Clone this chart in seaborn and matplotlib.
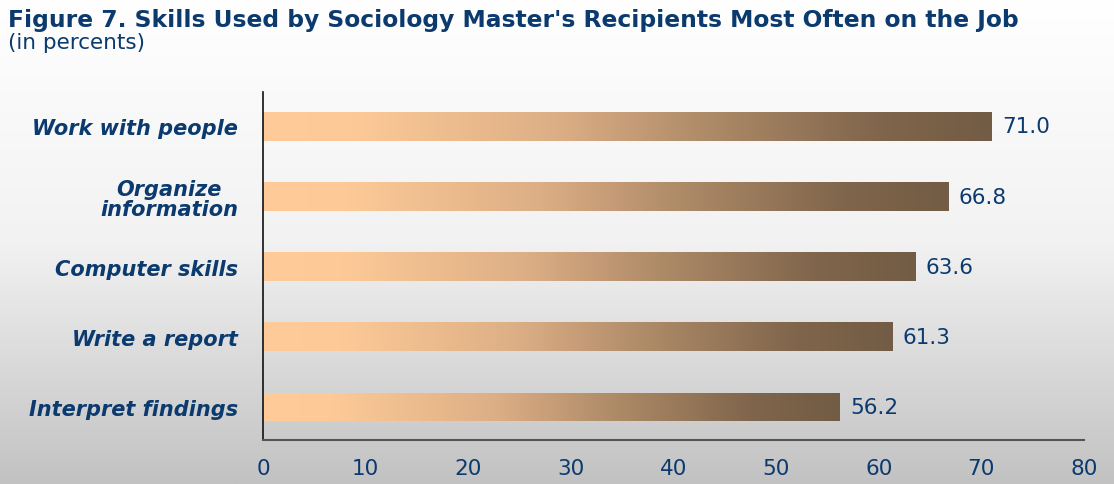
import numpy as np
import pandas as pd
import matplotlib
matplotlib.use("Agg")
import matplotlib.pyplot as plt
from matplotlib.colors import LinearSegmentedColormap
import seaborn as sns

skills = ["Work with people", "Organize\ninformation", "Computer skills", "Write a report", "Interpret findings"]
percents = [71.0, 66.8, 63.6, 61.3, 56.2]
x_ticks = [0, 10, 20, 30, 40, 50, 60, 70, 80]

title = "Figure 7. Skills Used by Sociology Master's Recipients Most Often on the Job"
subtitle = "(in percents)"

navy = "#0B3A6E"
sns.set_theme(style="white")
plt.rcParams['font.family'] = ['DejaVu Sans']

df = pd.DataFrame({"skill": skills, "pct": percents})

fig = plt.figure(figsize=(11.14, 4.85), dpi=100)

# background gradient
bg = fig.add_axes([0, 0, 1, 1], zorder=0)
grad = np.linspace(0, 1, 256).reshape(-1, 1)
bg_cmap = LinearSegmentedColormap.from_list("bg", ["#FFFFFF", "#F2F2F2", "#C2C2C2"])
bg.imshow(grad, aspect="auto", cmap=bg_cmap, extent=[0, 1, 0, 1], origin="upper")
bg.set_axis_off()

ax = fig.add_axes([263/1114, 1 - 441/485, (1084-263)/1114, (441-93)/485], zorder=1)
ax.patch.set_alpha(0)

sns.barplot(data=df, x="pct", y="skill", ax=ax, width=0.41, color="#FFCC99",
            edgecolor="none", linewidth=0, orient="h")

bar_cmap = LinearSegmentedColormap.from_list(
    "bar", [(0, "#FFCC99"), (0.12, "#FDCA97"), (0.4, "#DDAF86"),
            (0.6, "#B08C69"), (0.85, "#7F654B"), (1.0, "#735C45")])
hgrad = np.linspace(0, 1, 256).reshape(1, -1)
for p in ax.patches:
    x0, y0 = p.get_x(), p.get_y()
    w, h = p.get_width(), p.get_height()
    im = ax.imshow(hgrad, aspect="auto", cmap=bar_cmap,
                   extent=[x0, x0 + w, y0 + h, y0], zorder=2)
    im.set_clip_path(p)
    p.set_alpha(0)

for i, v in enumerate(percents):
    ax.text(v + 1.0, i, f"{v:.1f}", va="center", ha="left", fontsize=15.5, color=navy)

ax.set_xlim(0, 80)
ax.set_ylim(4.47, -0.49)
ax.set_xticks(x_ticks)
ax.set_xticklabels([str(t) for t in x_ticks], fontsize=15.5, color=navy)
ax.set_yticks(range(len(skills)))
ax.set_yticklabels(skills, fontsize=15, color=navy, fontweight="bold",
                   fontstyle="italic", linespacing=1.0)
ax.set_xlabel("")
ax.set_ylabel("")
ax.tick_params(axis="x", direction="in", length=5, width=1.2, color="#555555", pad=13)
ax.tick_params(axis="y", length=0, pad=18)
for lbl in ax.get_yticklabels():
    lbl.set_horizontalalignment("right")
    lbl.set_multialignment("center")
for s in ["top", "right"]:
    ax.spines[s].set_visible(False)
ax.spines["left"].set_color("#111111")
ax.spines["left"].set_linewidth(1.2)
ax.spines["bottom"].set_color("#555555")
ax.spines["bottom"].set_linewidth(1.5)
ax.grid(False)

fig.text(8/1114, 1 - 20/485, title, fontsize=16.8, fontweight="bold", color=navy, va="center", ha="left")
fig.text(8/1114, 1 - 43/485, subtitle, fontsize=15.5, color=navy, va="center", ha="left")

fig.savefig("out.png", dpi=100)
